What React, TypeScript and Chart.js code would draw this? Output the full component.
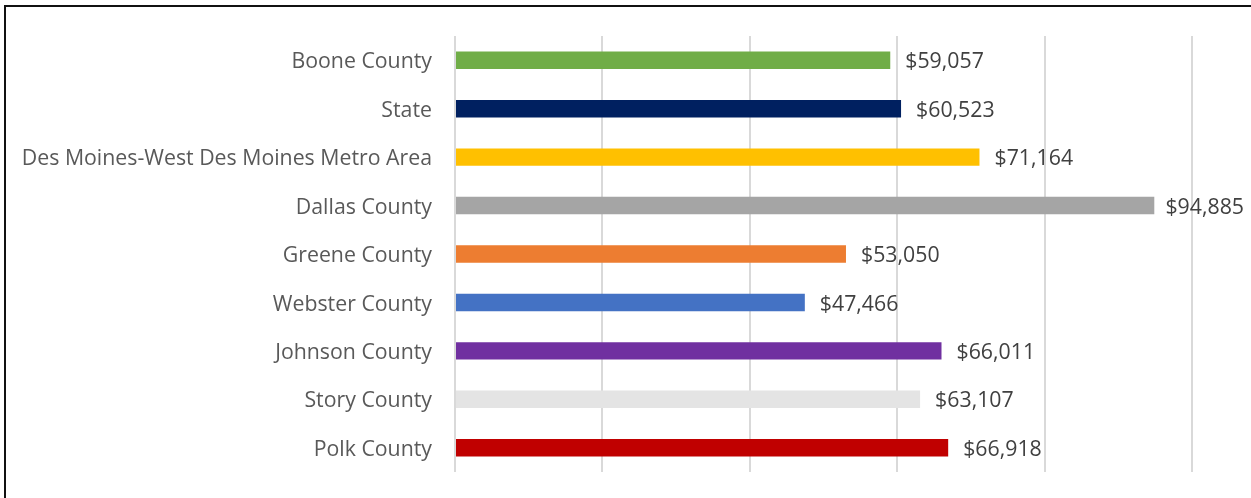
import React, { useEffect, useRef } from "react";
import { Chart, registerables } from "chart.js";

Chart.register(...registerables);

const categories = [
  "Boone County",
  "State",
  "Des Moines-West Des Moines Metro Area",
  "Dallas County",
  "Greene County",
  "Webster County",
  "Johnson County",
  "Story County",
  "Polk County",
];
const values = [59057, 60523, 71164, 94885, 53050, 47466, 66011, 63107, 66918];
const valueLabels = ["$59,057", "$60,523", "$71,164", "$94,885", "$53,050", "$47,466", "$66,011", "$63,107", "$66,918"];
const barColors = ["#70AD47", "#002060", "#FFC000", "#A5A5A5", "#ED7D31", "#4472C4", "#7030A0", "#E4E4E4", "#C00000"];
const xMin = 0;
const xMax = 100000;
const xStep = 20000;

const FONT_FAMILY = "'Open Sans', sans-serif";
const FONT_SIZE = 21.3;

const valueLabelPlugin = {
  id: "valueLabels",
  afterDatasetsDraw(chart: any) {
    const ctx = chart.ctx;
    const meta = chart.getDatasetMeta(0);
    ctx.save();
    ctx.font = `${FONT_SIZE}px ${FONT_FAMILY}`;
    ctx.fillStyle = "#404040";
    ctx.textBaseline = "middle";
    ctx.textAlign = "left";
    meta.data.forEach((el: any, i: number) => {
      const w = ctx.measureText(valueLabels[i]).width;
      const x = Math.min(el.x + 15, chart.width - 7 - w);
      ctx.fillText(valueLabels[i], x, el.y + 2);
    });
    ctx.restore();
  },
};

export default function App() {
  const canvasRef = useRef<HTMLCanvasElement | null>(null);

  useEffect(() => {
    if (!canvasRef.current) return;
    const chart = new Chart(canvasRef.current, {
      type: "bar",
      data: {
        labels: categories,
        datasets: [
          {
            data: values,
            backgroundColor: barColors,
            borderWidth: 0,
            categoryPercentage: 1,
            barPercentage: 0.36,
          },
        ],
      },
      options: {
        indexAxis: "y",
        responsive: false,
        animation: false,
        devicePixelRatio: 1,
        layout: { padding: { left: 0, right: 59, top: 36, bottom: 26 } },
        plugins: {
          legend: { display: false },
          tooltip: { enabled: false },
          title: { display: false },
        },
        scales: {
          x: {
            min: xMin,
            max: xMax,
            position: "bottom",
            ticks: { display: false, stepSize: xStep },
            border: { display: false },
            grid: { color: "#D9D9D9", lineWidth: 2, drawTicks: false },
            afterFit: (scale: any) => {
              scale.height = 0;
            },
          },
          y: {
            position: "left",
            grid: { display: false, drawTicks: false },
            border: { display: false },
            ticks: {
              color: "#595959",
              padding: 23,
              labelOffset: 2,
              font: { family: FONT_FAMILY, size: FONT_SIZE },
            },
            afterFit: (scale: any) => {
              scale.width = 455;
              scale.paddingTop = 0;
              scale.paddingBottom = 0;
            },
          },
        },
      },
      plugins: [valueLabelPlugin],
    });
    return () => chart.destroy();
  }, []);

  return (
    <div
      style={{
        position: "fixed",
        left: 0,
        top: 0,
        width: 1251,
        height: 498,
        overflow: "hidden",
        background: "#ffffff",
      }}
    >
      <div
        style={{
          position: "absolute",
          left: 4,
          top: 5,
          width: 1300,
          height: 600,
          borderLeft: "2px solid #111111",
          borderTop: "2px solid #111111",
        }}
      />
      <canvas
        ref={canvasRef}
        width={1251}
        height={498}
        style={{ position: "absolute", left: 0, top: 0, width: 1251, height: 498 }}
      />
    </div>
  );
}
